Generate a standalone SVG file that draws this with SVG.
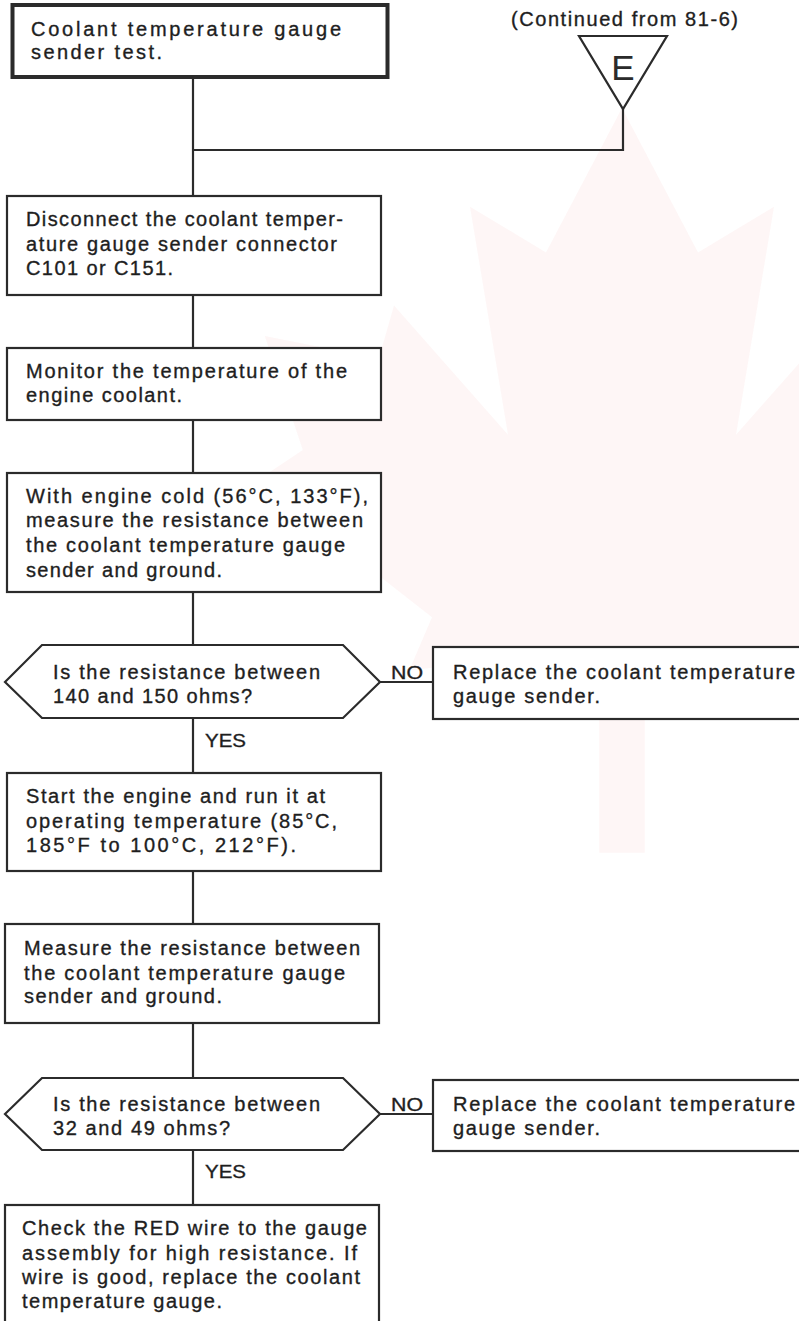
<svg xmlns="http://www.w3.org/2000/svg" width="799" height="1321" viewBox="0 0 799 1321">
  <style>
    .box { fill: #ffffff; stroke: #2b2b2b; stroke-width: 2.2; }
    .title { fill: #ffffff; stroke: #2b2b2b; stroke-width: 4; }
    .wire { fill: none; stroke: #2b2b2b; stroke-width: 2.2; }
    text { font-family: "Liberation Sans", Arial, sans-serif; font-size: 20px; fill: #1e1e1e; stroke: #1e1e1e; stroke-width: 0.35; }
    .lbl { font-size: 19px; }
    .mark { font-size: 35px; fill: #2b2b2b; stroke: none; }
  </style>

  <!-- faint maple-leaf backdrop -->
  <g id="backdrop" transform="translate(622,108) scale(760)" fill="#e53935" fill-opacity="0.045">
    <path d="M0 0 L0.10 0.19 L0.20 0.13 L0.15 0.43 L0.30 0.26 L0.32 0.33 L0.47 0.30 L0.42 0.45 L0.48 0.49 L0.25 0.67 L0.28 0.74 L0.03 0.71 L0.03 0.98 L-0.03 0.98 L-0.03 0.71 L-0.28 0.74 L-0.25 0.67 L-0.48 0.49 L-0.42 0.45 L-0.47 0.30 L-0.32 0.33 L-0.30 0.26 L-0.15 0.43 L-0.20 0.13 L-0.10 0.19 Z"/>
  </g>

  <!-- connectors -->
  <g id="connectors" class="wire">
    <line x1="193" y1="78" x2="193" y2="196"/>
    <polyline points="623,109 623,150 193,150"/>
    <line x1="193" y1="295" x2="193" y2="348"/>
    <line x1="193" y1="420" x2="193" y2="473"/>
    <line x1="193" y1="592" x2="193" y2="645"/>
    <line x1="193" y1="718" x2="193" y2="773"/>
    <line x1="193" y1="871" x2="193" y2="924"/>
    <line x1="193" y1="1023" x2="193" y2="1078"/>
    <line x1="193" y1="1150" x2="193" y2="1205"/>
    <line x1="380" y1="682" x2="433" y2="682"/>
    <line x1="380" y1="1114" x2="433" y2="1114"/>
  </g>

  <!-- branch labels -->
  <g id="labels">
    <text class="lbl" x="391" y="679" textLength="32" lengthAdjust="spacingAndGlyphs">NO</text>
    <text class="lbl" x="205" y="747" textLength="41" lengthAdjust="spacingAndGlyphs">YES</text>
    <text class="lbl" x="391" y="1111" textLength="32" lengthAdjust="spacingAndGlyphs">NO</text>
    <text class="lbl" x="205" y="1178" textLength="41" lengthAdjust="spacingAndGlyphs">YES</text>
  </g>

  <g id="start">
    <rect class="title" x="12.5" y="5" width="375" height="72"/>
    <text x="31" y="36" textLength="310">Coolant temperature gauge</text>
    <text x="31" y="59" textLength="131">sender test.</text>
  </g>

  <g id="offpage-E">
    <text x="511" y="26" textLength="227">(Continued from 81-6)</text>
    <polygon class="wire" points="579,36 667,36 623,109" stroke-width="2.6"/>
    <text class="mark" x="623" y="80" text-anchor="middle">E</text>
  </g>

  <g id="disconnect">
    <rect class="box" x="7" y="196" width="374" height="99"/>
    <text x="26" y="226" textLength="317">Disconnect the coolant temper-</text>
    <text x="26" y="251" textLength="311">ature gauge sender connector</text>
    <text x="26" y="275" textLength="147">C101 or C151.</text>
  </g>

  <g id="monitor">
    <rect class="box" x="7" y="348" width="374" height="72"/>
    <text x="26" y="378" textLength="321">Monitor the temperature of the</text>
    <text x="26" y="402" textLength="156">engine coolant.</text>
  </g>

  <g id="measure-cold">
    <rect class="box" x="7" y="473" width="374" height="119"/>
    <text x="26" y="503" textLength="342">With engine cold (56°C, 133°F),</text>
    <text x="26" y="527" textLength="337">measure the resistance between</text>
    <text x="26" y="552" textLength="319">the coolant temperature gauge</text>
    <text x="26" y="577" textLength="196">sender and ground.</text>
  </g>

  <g id="check-cold">
    <polygon class="box" points="5,682 42,645 343,645 380,682 343,718 42,718"/>
    <text x="53" y="679" textLength="267">Is the resistance between</text>
    <text x="53" y="703" textLength="199">140 and 150 ohms?</text>
  </g>

  <g id="replace-1">
    <rect class="box" x="433" y="647" width="380" height="72"/>
    <text x="453" y="679" textLength="342">Replace the coolant temperature</text>
    <text x="453" y="703" textLength="147">gauge sender.</text>
  </g>

  <g id="run-engine">
    <rect class="box" x="7" y="773" width="374" height="98"/>
    <text x="26" y="803" textLength="299">Start the engine and run it at</text>
    <text x="26" y="828" textLength="311">operating temperature (85°C,</text>
    <text x="26" y="852" textLength="270">185°F to 100°C, 212°F).</text>
  </g>

  <g id="measure-hot">
    <rect class="box" x="5" y="924" width="374" height="99"/>
    <text x="24" y="955" textLength="336">Measure the resistance between</text>
    <text x="24" y="980" textLength="321">the coolant temperature gauge</text>
    <text x="24" y="1003" textLength="198">sender and ground.</text>
  </g>

  <g id="check-hot">
    <polygon class="box" points="5,1114 42,1078 343,1078 380,1114 343,1150 42,1150"/>
    <text x="53" y="1111" textLength="267">Is the resistance between</text>
    <text x="53" y="1135" textLength="177">32 and 49 ohms?</text>
  </g>

  <g id="replace-2">
    <rect class="box" x="433" y="1080" width="380" height="71"/>
    <text x="453" y="1111" textLength="342">Replace the coolant temperature</text>
    <text x="453" y="1135" textLength="147">gauge sender.</text>
  </g>

  <g id="check-wire">
    <rect class="box" x="5" y="1205" width="374" height="130"/>
    <text x="22" y="1235" textLength="345">Check the RED wire to the gauge</text>
    <text x="22" y="1260" textLength="335">assembly for high resistance. If</text>
    <text x="22" y="1284" textLength="338">wire is good, replace the coolant</text>
    <text x="22" y="1308" textLength="200">temperature gauge.</text>
  </g>
</svg>
